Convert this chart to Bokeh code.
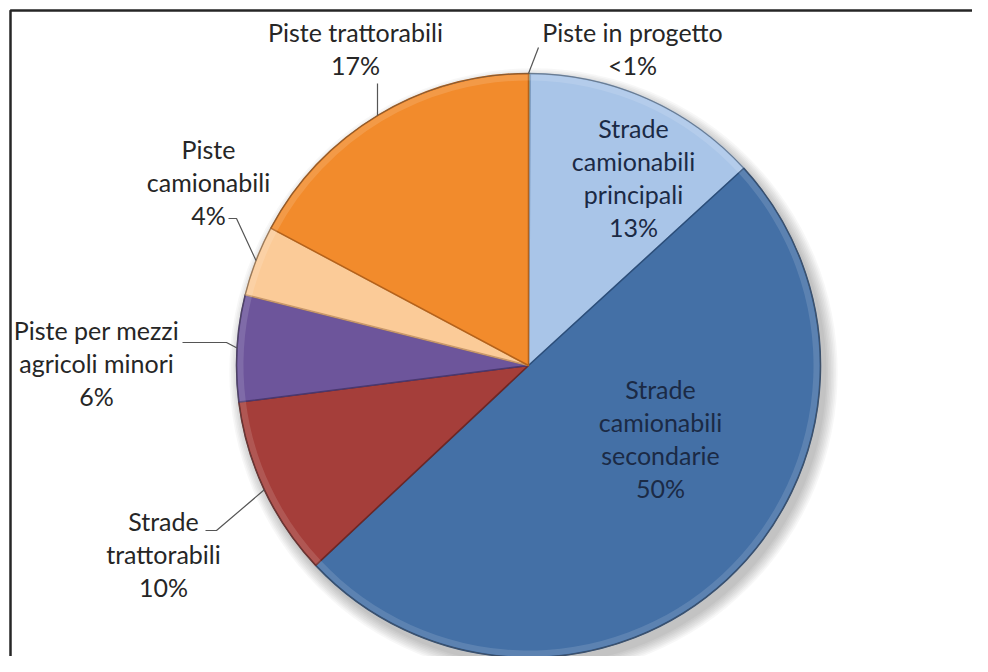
import math
from bokeh.plotting import figure
from bokeh.models import Range1d, ColumnDataSource
from bokeh.core.properties import value
from bokeh.embed import file_html
from bokeh.resources import INLINE

# ---- data (clockwise from 12 o'clock) ----
categories = ["Piste in progetto", "Strade camionabili principali",
              "Strade camionabili secondarie", "Strade trattorabili",
              "Piste per mezzi agricoli minori", "Piste camionabili",
              "Piste trattorabili"]
values = [0.1, 13.1, 49.8, 10.0, 5.9, 3.9, 17.2]
pct_labels = ["<1%", "13%", "50%", "10%", "6%", "4%", "17%"]
label_text = ["Piste in progetto", "Strade\ncamionabili\nprincipali",
              "Strade\ncamionabili\nsecondarie", "Strade\ntrattorabili",
              "Piste per mezzi\nagricoli minori", "Piste\ncamionabili",
              "Piste trattorabili"]

# ---- styles / layout ----
colors = ["#B9CD96", "#A9C5E8", "#4470A6", "#A53E3A", "#6D559B", "#FBCB98", "#F28B2C"]
edges = ["#7E9560", "#7F9DC2", "#2C4E7A", "#6E2624", "#4A3870", "#C9996A", "#B5621A"]
W, H = 972, 656
CX, CY = 528, 365          # pie centre in picture pixels
R = 292

def d(px, py):
    return px - CX, CY - py

p = figure(width=W, height=H, output_backend="svg", toolbar_location=None,
           x_range=Range1d(-CX, W - CX), y_range=Range1d(CY - H, CY),
           min_border=0)
p.outline_line_color = None
p.axis.visible = False
p.grid.visible = False
p.background_fill_color = "white"
p.border_fill_color = "white"

# frame (left and top edges)
fx, fy = d(10, 10)
p.line([fx, fx, W - CX + 20], [CY - H - 20, fy, fy], line_color="#262626", line_width=2.5)

# soft shadow
for i in range(8):
    p.circle(x=5, y=-7, radius=R + 1 + i * 1.6, fill_color="#000000", fill_alpha=0.03,
             line_color=None)

# wedges
total = sum(values)
starts, ends, mids = [], [], []
cum = 0.0
for v in values:
    a0 = cum / total
    cum += v
    a1 = cum / total
    starts.append(math.pi / 2 - a0 * 2 * math.pi)
    ends.append(math.pi / 2 - a1 * 2 * math.pi)
    mids.append(math.pi / 2 - (a0 + a1) / 2 * 2 * math.pi)

src = ColumnDataSource(dict(start=starts, end=ends, color=colors, edge=edges, cat=categories))
p.wedge(x=0, y=0, radius=R, start_angle="start", end_angle="end", direction="clock",
        fill_color="color", line_color="edge", line_width=1.5, source=src)
# rim highlight (bevel hint)
p.annular_wedge(x=0, y=0, inner_radius=R - 7, outer_radius=R - 1, start_angle="start",
                end_angle="end", direction="clock", fill_color="white", fill_alpha=0.13,
                line_color=None, source=src)
p.circle(x=0, y=0, radius=R, fill_color=None, line_color="#555555", line_alpha=0.5, line_width=1)

# labels: picture-pixel positions of label centres
label_pos = [(632, 48), (633, 177), (660, 438), (163, 553), (96, 362), (208, 181), (355, 48)]
inside = [False, True, True, False, False, False, False]
font = value("Lato")
for i in range(len(categories)):
    x, y = d(*label_pos[i])
    txt = label_text[i] + "\n" + pct_labels[i]
    p.text(x=[x], y=[y], text=[txt], text_font=font, text_font_size="25px",
           text_align="center", text_baseline="middle", text_line_height=1.1,
           text_color="#1B2A45" if inside[i] else "#262626")

# leader lines: from label to rim at slice mid-angle
def rim(i):
    return R * math.cos(mids[i]), R * math.sin(mids[i])

leaders = {
    0: [(538, 47)],
    6: [(377, 83)],
    5: [(228, 218), (236, 218)],
    4: [(182, 342), (226, 342)],
    3: [(205, 530), (216, 530)],
}
for i, pts in leaders.items():
    xs = [d(*q)[0] for q in pts]
    ys = [d(*q)[1] for q in pts]
    rx, ry = rim(i)
    if i == 6:
        rx = xs[0]
        ry = math.sqrt(R * R - rx * rx)
    if i == 0:
        rx, ry = 0, R
    xs.append(rx)
    ys.append(ry)
    p.line(xs, ys, line_color="#555555", line_width=1.2)

open("out.html", "w").write(file_html(p, INLINE))
